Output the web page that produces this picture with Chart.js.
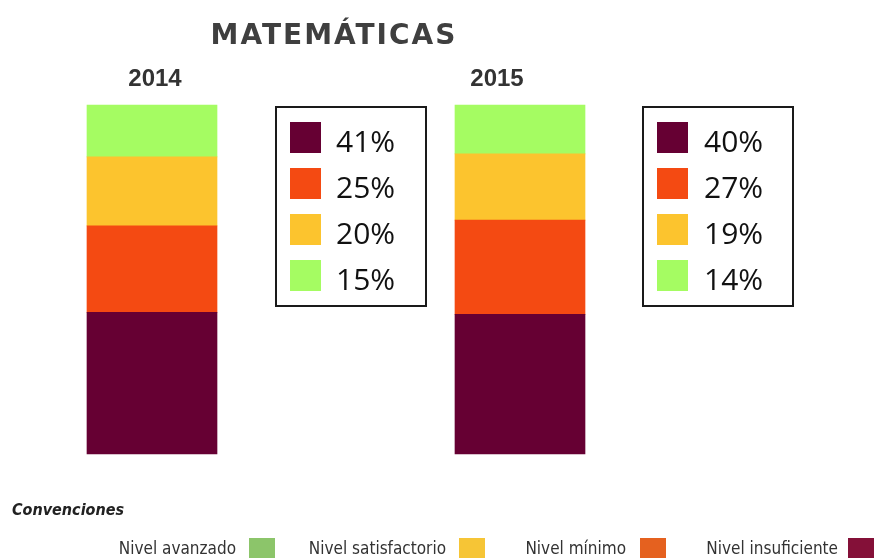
<!DOCTYPE html>
<html>
<head>
<meta charset="utf-8">
<script src="https://cdn.jsdelivr.net/npm/chart.js@4"></script>
<style>
html,body{margin:0;padding:0;background:#fff;}
#wrap{width:877px;height:559px;position:relative;}
</style>
</head>
<body>
<div id="wrap"><canvas id="c" width="877" height="559"></canvas></div>
<script>
// ---- data ----
const categories = ['2014', '2015'];
const levelNames = ['Nivel insuficiente', 'Nivel mínimo', 'Nivel satisfactorio', 'Nivel avanzado'];
const insuficiente = [41, 40];
const minimo = [25, 27];
const satisfactorio = [20, 19];
const avanzado = [15, 14];
const titleText = 'MATEMÁTICAS';
const conventionsTitle = 'Convenciones';
const conventionOrder = ['Nivel avanzado', 'Nivel satisfactorio', 'Nivel mínimo', 'Nivel insuficiente'];

// ---- styles ----
const barColors = {
  'Nivel insuficiente': '#660033',
  'Nivel mínimo': '#f44a12',
  'Nivel satisfactorio': '#fcc42e',
  'Nivel avanzado': '#a5fc62'
};
const convColors = {
  'Nivel avanzado': '#8cc56a',
  'Nivel satisfactorio': '#f6c536',
  'Nivel mínimo': '#e5611f',
  'Nivel insuficiente': '#841038'
};

const series = [insuficiente, minimo, satisfactorio, avanzado];
const totals = categories.map((_, i) => series.reduce((s, arr) => s + arr[i], 0));
const datasets = levelNames.map((name, k) => ({
  label: name,
  data: series[k].map((v, i) => v / totals[i] * 100),
  rawValues: series[k],
  backgroundColor: barColors[name],
  borderWidth: 0,
  barThickness: 130,
  clip: false
}));

const overlay = {
  id: 'overlay',
  afterDraw(chart) {
    const ctx = chart.ctx;
    ctx.save();
    // title
    ctx.fillStyle = '#3f3f3f';
    ctx.font = 'bold 28px "DejaVu Sans", sans-serif';
    ctx.textAlign = 'center';
    ctx.textBaseline = 'alphabetic';
    if ('letterSpacing' in ctx) ctx.letterSpacing = '2px';
    ctx.fillText(titleText, 334, 44);
    if ('letterSpacing' in ctx) ctx.letterSpacing = '0px';
    // year labels
    ctx.fillStyle = '#333333';
    ctx.font = 'bold 24px "Liberation Sans", Arial, sans-serif';
    const yearX = [155, 497];
    categories.forEach((c, i) => ctx.fillText(c, yearX[i], 86));

    // value boxes
    const boxes = [{x: 276, y: 107, w: 150, h: 199, sw: 290, tx: 336},
                   {x: 643, y: 107, w: 150, h: 199, sw: 657, tx: 704}];
    boxes.forEach((b, i) => {
      ctx.strokeStyle = '#1a1a1a';
      ctx.lineWidth = 2;
      ctx.strokeRect(b.x, b.y, b.w, b.h);
      levelNames.forEach((name, k) => {
        const ry = 122 + k * 46;
        ctx.fillStyle = barColors[name];
        ctx.fillRect(b.sw, ry, 31, 31);
        ctx.fillStyle = '#111111';
        ctx.font = '30px "Open Sans", sans-serif';
        ctx.textAlign = 'left';
        ctx.fillText(series[k][i] + '%', b.tx, ry + 30);
      });
    });

    // conventions
    ctx.fillStyle = '#222222';
    ctx.font = 'italic bold 16px "Liberation Sans Narrow", "DejaVu Sans Condensed", sans-serif';
    ctx.textAlign = 'left';
    ctx.fillText(conventionsTitle, 12, 515);
    const itemRight = [236, 446, 626, 838];
    const swX = [249, 459, 640, 848];
    ctx.font = '17px "Liberation Sans Narrow", "DejaVu Sans Condensed", sans-serif';
    conventionOrder.forEach((name, k) => {
      ctx.fillStyle = '#333333';
      ctx.textAlign = 'right';
      ctx.fillText(name, itemRight[k], 554);
      ctx.fillStyle = convColors[name];
      ctx.fillRect(swX[k], 538, 26, 20);
    });
    ctx.restore();
  }
};

new Chart(document.getElementById('c'), {
  type: 'bar',
  data: { labels: categories, datasets },
  options: {
    responsive: false,
    animation: false,
    layout: { padding: { left: 152, right: 357, top: 105, bottom: 105 } },
    plugins: { legend: { display: false }, tooltip: { enabled: false }, title: { display: false } },
    scales: {
      x: { stacked: true, display: false, offset: false, grid: { display: false } },
      y: { stacked: true, display: false, min: 0, max: 100 }
    }
  },
  plugins: [overlay]
});
</script>
</body>
</html>
